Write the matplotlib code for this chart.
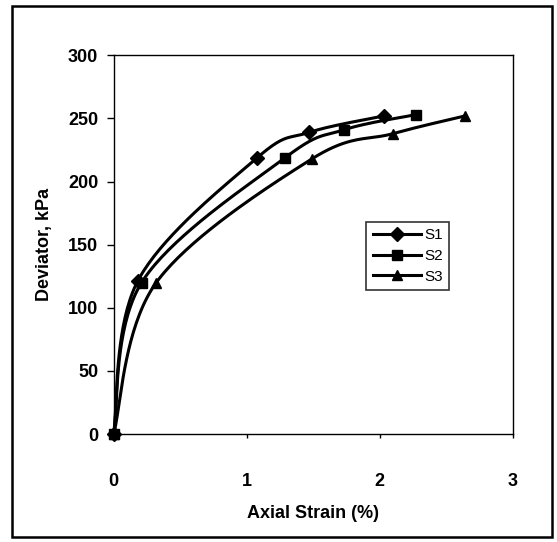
import numpy as np
import matplotlib
matplotlib.use("Agg")
import matplotlib.pyplot as plt
from matplotlib.patches import Rectangle

plt.rcParams["font.family"] = ["Liberation Sans", "DejaVu Sans"]

# --------------------------
# Data
# --------------------------
s1_strain = [0.0, 0.18, 1.08, 1.47, 2.03]
s1_dev = [0, 121, 219, 239, 252]

s2_strain = [0.0, 0.21, 1.29, 1.73, 2.27]
s2_dev = [0, 120, 219, 241, 253]

s3_strain = [0.0, 0.32, 1.49, 2.10, 2.64]
s3_dev = [0, 120, 218, 238, 252]

series = [
    ("S1", s1_strain, s1_dev, "D"),
    ("S2", s2_strain, s2_dev, "s"),
    ("S3", s3_strain, s3_dev, "^"),
]


def smooth(xs, ys, n=40):
    """Excel-like smoothed line: Catmull-Rom through the points."""
    p = np.column_stack([xs, ys]).astype(float)
    pts = [p[0]] + list(p) + [p[-1]]
    out = []
    for i in range(1, len(pts) - 2):
        p0, p1, p2, p3 = pts[i - 1], pts[i], pts[i + 1], pts[i + 2]
        c1 = p1 + (p2 - p0) / 6.0
        c2 = p2 - (p3 - p1) / 6.0
        t = np.linspace(0, 1, n)[:, None]
        seg = ((1 - t) ** 3) * p1 + 3 * ((1 - t) ** 2) * t * c1 \
            + 3 * (1 - t) * t ** 2 * c2 + t ** 3 * p2
        out.append(seg)
    arr = np.vstack(out)
    return arr[:, 0], arr[:, 1]


# --------------------------
# Plot
# --------------------------
fig = plt.figure(figsize=(5.57, 5.42), dpi=100)
ax = fig.add_axes([0.204, 0.199, 0.717, 0.699])

for name, xs, ys, mk in series:
    sx, sy = smooth(xs, ys)
    ax.plot(sx, sy, color="black", lw=2.2, zorder=2, clip_on=False)
    ax.plot(xs, ys, ls="none", marker=mk, color="black", ms=7, zorder=3,
            clip_on=False)
    # legend proxy
    ax.plot([], [], color="black", lw=2.2, marker=mk, ms=7, label=name)

ax.set_xlim(0, 3)
ax.set_ylim(0, 300)
ax.set_xticks([0, 1, 2, 3])
ax.set_yticks(range(0, 301, 50))

for sp in ax.spines.values():
    sp.set_linewidth(1.0)

ax.tick_params(axis="y", direction="out", length=5, width=1, pad=6,
               labelsize=13)
ax.tick_params(axis="x", direction="out", length=3, width=1, pad=25,
               labelsize=13)
for lab in ax.get_xticklabels() + ax.get_yticklabels():
    lab.set_fontweight("bold")

ax.set_xlabel("Axial Strain (%)", fontsize=13, fontweight="bold", labelpad=11)
ax.set_ylabel("Deviator, kPa", fontsize=13, fontweight="bold", labelpad=11)

leg = ax.legend(loc="upper left", bbox_to_anchor=(0.633, 0.56),
                borderaxespad=0, frameon=True, fancybox=False,
                edgecolor="black", fontsize=11, handlelength=3.2,
                labelspacing=0.45, handletextpad=0.2, borderpad=0.4)
leg.get_frame().set_linewidth(1.2)

# outer border around the whole chart
fig.patches.append(Rectangle((0.022, 0.009), 0.969, 0.98,
                             transform=fig.transFigure, fill=False,
                             edgecolor="black", lw=1.8))

fig.savefig("out.png", dpi=100)
